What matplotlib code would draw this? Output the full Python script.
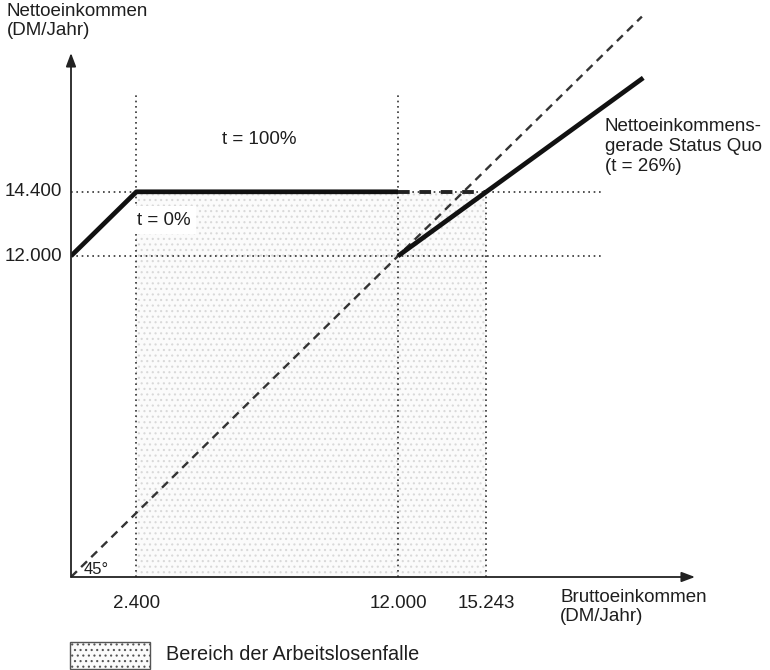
import matplotlib
matplotlib.use("Agg")
import matplotlib.pyplot as plt
from matplotlib.patches import Rectangle

plt.rcParams['font.family'] = ['Liberation Sans', 'DejaVu Sans']
plt.rcParams['hatch.linewidth'] = 0.8

# ---- data ----
kink_x = [0, 2400, 12000]            # Nettoeinkommen mit t = 0% / t = 100%
kink_y = [12000, 14400, 14400]
cont_x = [12000, 15243]              # Fortsetzung (gestrichelt) bei 14.400
cont_y = [14400, 14400]
sq_x = [12000, 21000]                # Nettoeinkommensgerade Status Quo (t = 26%)
sq_y = [12000, 18660]
diag_x = [0, 20950]                  # 45°-Linie
diag_y = [0, 20950]
trap_x = [2400, 15243]               # Bereich der Arbeitslosenfalle
trap_y = [0, 14400]
xtick_vals = [2400, 12000, 15243]
xtick_labels = ["2.400", "12.000", "15.243"]
ytick_vals = [12000, 14400]
ytick_labels = ["12.000", "14.400"]

W, H = 770, 670
fig = plt.figure(figsize=(W / 100, H / 100), dpi=100)

sx, sy = 0.02725, 0.02675
x0px, y0px = 71, 577
axw, axh = 630, 577
ax = fig.add_axes([x0px / W, (H - y0px) / H, axw / W, axh / H])
ax.set_xlim(0, axw / sx)
ax.set_ylim(0, axh / sy)
ax.axis('off')

def fpx(x, y):
    return x / W, 1 - y / H

fs = 13.5
tc = '#1e1e1e'
shade_fc = '#fbfbfb'
shade_ec = '#d9d9d9'

# shaded area
ax.add_patch(Rectangle((trap_x[0], trap_y[0]), trap_x[1] - trap_x[0], trap_y[1] - trap_y[0],
                       facecolor=shade_fc, edgecolor=shade_ec, hatch='...', lw=0, zorder=1))

dot = dict(color='#333333', lw=1.2, linestyle=(0, (1, 2.2)), zorder=2)
top_v = 18020
ax.plot([xtick_vals[0]] * 2, [0, top_v], **dot)
ax.plot([xtick_vals[1]] * 2, [0, top_v], **dot)
ax.plot([xtick_vals[2]] * 2, [0, ytick_vals[1]], **dot)
right_h = 19490
ax.plot([0, right_h], [ytick_vals[0]] * 2, **dot)
ax.plot([0, right_h], [ytick_vals[1]] * 2, **dot)

# 45 degree line
ax.plot(diag_x, diag_y, color='#333333', lw=1.7, linestyle=(0, (3.5, 2.5)), zorder=3)

# thick lines
ax.plot(kink_x, kink_y, color='#111111', lw=3.4, solid_capstyle='butt', zorder=4)
ax.plot(cont_x, cont_y, color='#222222', lw=2.8, linestyle=(0, (3, 2.5)), zorder=4)
ax.plot(sq_x, sq_y, color='#111111', lw=3.4, solid_capstyle='butt', zorder=4)

# axes with arrows
ax.annotate('', xy=(22900, 0), xytext=(0, 0),
            arrowprops=dict(arrowstyle='-|>,head_length=0.8,head_width=0.3', color='#222222', lw=1.3,
                            shrinkA=0, shrinkB=0), annotation_clip=False, zorder=5)
ax.annotate('', xy=(0, 19590), xytext=(0, 0),
            arrowprops=dict(arrowstyle='-|>,head_length=0.8,head_width=0.3', color='#222222', lw=1.3,
                            shrinkA=0, shrinkB=0), annotation_clip=False, zorder=5)

# tick labels
for v, lab in zip(ytick_vals, ytick_labels):
    ax.text(-9 / sx, v, lab, ha='right', va='center', fontsize=fs, color=tc, clip_on=False)
for v, lab in zip(xtick_vals, xtick_labels):
    ax.text(v, -27 / sy, lab, ha='center', va='center', fontsize=fs, color=tc, clip_on=False)

# axis titles
fig.text(*fpx(7, 3), "Nettoeinkommen\n(DM/Jahr)", ha='left', va='top', fontsize=fs,
         color=tc, linespacing=1.15)
fig.text(*fpx(560, 589), "Bruttoeinkommen\n(DM/Jahr)", ha='left', va='top', fontsize=fs,
         color=tc, linespacing=1.12)

# annotations
fig.text(*fpx(222, 140), "t = 100%", ha='left', va='center', fontsize=fs, color=tc)
fig.text(*fpx(137, 220), "t = 0%", ha='left', va='center', fontsize=fs, color=tc,
         bbox=dict(facecolor='white', edgecolor='none', pad=4))
fig.text(*fpx(605, 118), "Nettoeinkommens-\ngerade Status Quo\n(t = 26%)", ha='left', va='top',
         fontsize=fs, color=tc, linespacing=1.22)
fig.text(*fpx(84, 569), "45°", ha='left', va='center', fontsize=fs - 1.5, color=tc)

# legend
lx0, ly0, lw_, lh_ = 70, 642, 80, 27
fig.patches.append(Rectangle(fpx(lx0, ly0 + lh_), lw_ / W, lh_ / H, transform=fig.transFigure,
                             facecolor=shade_fc, edgecolor='#555555', hatch='...', lw=1.0))
fig.text(*fpx(166, 655), "Bereich der Arbeitslosenfalle", ha='left', va='center', fontsize=14.3,
         color=tc)

fig.savefig('out.png', dpi=100)
